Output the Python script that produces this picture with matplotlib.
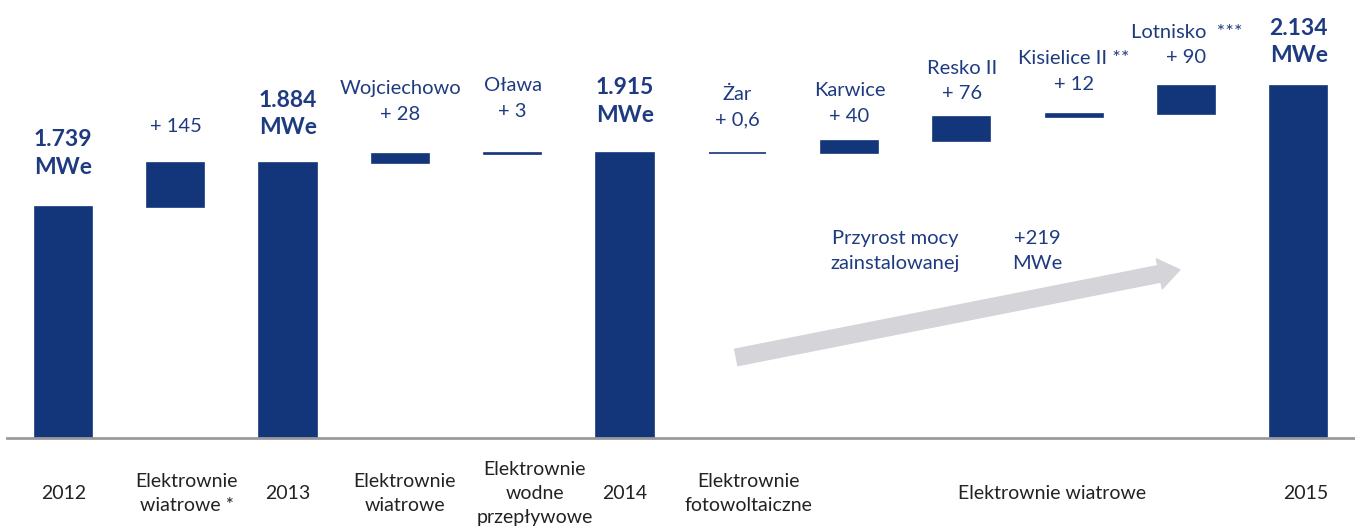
import matplotlib.pyplot as plt

plt.rcParams['font.family'] = ['Lato', 'DejaVu Sans']

# data
values = [1739, 145, 1884, 28, 3, 1915, 0.6, 40, 76, 12, 90, 2134]
is_total = [True, False, True, False, False, True, False, False, False, False, False, True]
total_labels = ['1.739', '', '1.884', '', '', '1.915', '', '', '', '', '', '2.134']
plant_names = ['', '', '', 'Wojciechowo', 'Oława', '', 'Żar', 'Karwice', 'Resko II',
               'Kisielice II **', 'Lotnisko  ***', '']
step_labels = ['', '+ 145', '', '+ 28', '+ 3', '', '+ 0,6', '+ 40', '+ 76', '+ 12', '+ 90', '']
category_labels = ['2012', 'Elektrownie\nwiatrowe *', '2013', 'Elektrownie\nwiatrowe',
                   'Elektrownie\nwodne\nprzepływowe', '2014', 'Elektrownie\nfotowoltaiczne',
                   'Elektrownie wiatrowe', '2015']

# layout
category_x = [0, 1.1, 2, 3.04, 4.2, 5, 6.1, 8.8, 11.06]
label_pad = [21, 20, 17.5, 22.5, 24, 19.5, 17.5, 11.5, 11, 15, 14.5, 14]

navy = '#13357a'
text_navy = '#1f3b80'
y_min = 987

fig = plt.figure(figsize=(13.55, 5.30), dpi=100)
ax = fig.add_axes([0.0052, 0.1736, 0.9948, 0.8264])

# waterfall
bottoms, heights = [], []
running = 0
for v, tot in zip(values, is_total):
    if tot:
        bottoms.append(0)
        heights.append(v)
        running = v
    else:
        bottoms.append(running)
        heights.append(v)
        running += v

x = range(len(values))
ax.bar(x, heights, bottom=bottoms, width=0.51, color=navy, edgecolor=navy, linewidth=1.2)

for i in x:
    top = bottoms[i] + heights[i]
    if is_total[i]:
        ax.annotate(total_labels[i] + '\nMWe', (i, top), xytext=(0, label_pad[i]),
                    textcoords='offset points', ha='center', va='bottom', fontsize=16.5,
                    fontweight='bold', color=text_navy, linespacing=1.4)
    else:
        ax.annotate((plant_names[i] + '\n' if plant_names[i] else '') + step_labels[i], (i, top),
                    xytext=(0, label_pad[i]), textcoords='offset points', ha='center', va='bottom',
                    fontsize=14.5, color=text_navy, linespacing=1.6)

for lab, cx in zip(category_labels, category_x):
    ax.text(cx, -0.126, lab, transform=ax.get_xaxis_transform(), ha='center', va='center',
            fontsize=14, color='#222222', linespacing=1.5)

# growth arrow
ax.annotate('', xy=(0.870, 0.384), xytext=(0.541, 0.184), xycoords='axes fraction',
            arrowprops=dict(arrowstyle='simple,head_width=1.1,head_length=0.75,tail_width=0.6',
                            color='#d4d4d9', mutation_scale=20, shrinkA=0, shrinkB=0))
ax.text(0.659, 0.427, 'Przyrost mocy\nzainstalowanej', transform=ax.transAxes, ha='center',
        va='center', fontsize=14.5, color=text_navy, linespacing=1.55)
ax.text(0.764, 0.427, '+219\nMWe', transform=ax.transAxes, ha='center', va='center',
        fontsize=14.5, color=text_navy, linespacing=1.55)

ax.set_xlim(-0.5, 11.5)
ax.set_ylim(y_min, 2414)
for s in ['top', 'right', 'left']:
    ax.spines[s].set_visible(False)
ax.spines['bottom'].set_color('#9a9a9a')
ax.spines['bottom'].set_linewidth(2)
ax.set_xticks([])
ax.set_yticks([])

fig.savefig('out.png', dpi=100)
